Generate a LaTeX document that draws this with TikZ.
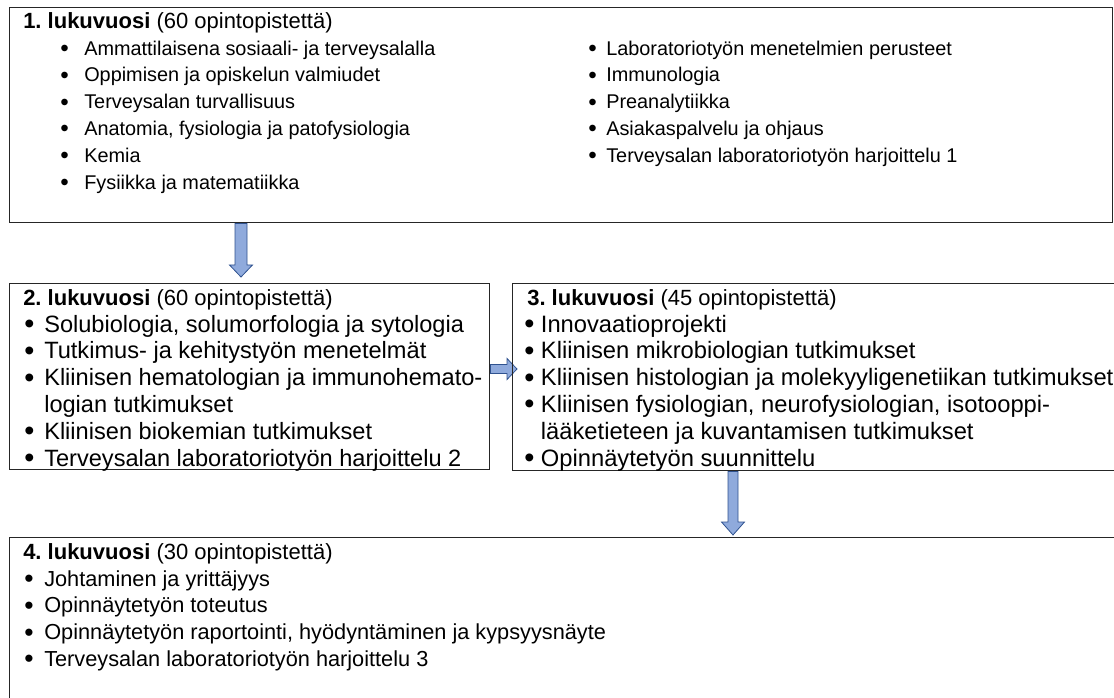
\documentclass[tikz,border=0pt]{standalone}
\usepackage{fontspec}
\usepackage{graphicx}
\setmainfont{Liberation Sans}
\frenchspacing
\usetikzlibrary{calc,backgrounds}

\definecolor{arrowfill}{RGB}{143,170,220}
\definecolor{arrowline}{RGB}{47,82,143}

\newcommand{\bul}[1][15pt]{\makebox[#1][l]{\raisebox{-1.1pt}{\scalebox{1.22}{•}}}}
\newcommand{\itemsize}[1]{\fontsize{#1}{20.1}\selectfont}
% block arrow downwards: start, tip, shaft half, head half, head length
\newcommand{\vblock}[5]{%
  \draw[bluearrow] let \p1=(#1), \p2=(#2) in
    (\x1-#3,\y1) -- (\x1-#3,\y2+#5) -- (\x1-#4,\y2+#5) -- (\x1,\y2)
    -- (\x1+#4,\y2+#5) -- (\x1+#3,\y2+#5) -- (\x1+#3,\y1) -- cycle;}
% block arrow to the right
\newcommand{\hblock}[5]{%
  \draw[bluearrow] let \p1=(#1), \p2=(#2) in
    (\x1,\y1-#3) -- (\x2-#5,\y1-#3) -- (\x2-#5,\y1-#4) -- (\x2,\y1)
    -- (\x2-#5,\y1+#4) -- (\x2-#5,\y1+#3) -- (\x1,\y1+#3) -- cycle;}

\begin{document}
\begin{tikzpicture}[x=0.75pt, y=-0.75pt,
    yearbox/.style={draw=black!85, line width=1.1pt, anchor=north west, inner sep=0},
    yeartext/.style={anchor=north west, inner sep=0, align=left,
      font=\itemsize{#1}},
    bluearrow/.style={fill=arrowfill, draw=arrowline, line width=0.6pt}]
    \useasboundingbox (0,0) rectangle (1114,698);
    \clip (0,0) rectangle (1114,698);

    %% boxes
    \node[yearbox, minimum width=827.25pt, minimum height=161.25pt] (y1) at (9,7) {};
    \node[yearbox, minimum width=360pt, minimum height=139.5pt] (y2) at (9,283) {};
    \node[yearbox, minimum width=465pt, minimum height=140.25pt] (y3) at (512,283) {};
    \node[yearbox, minimum width=843.75pt, minimum height=135pt] (y4) at (9,537) {};

    %% 1. lukuvuosi
    \node[yeartext=14.9] (t1) at (23,9.2) {\itemsize{16.5}\strut\textbf{1. lukuvuosi} (60 opintopistettä)\\
        \hspace*{27.75pt}\bul[18pt]Ammattilaisena sosiaali- ja terveysalalla\\
        \hspace*{27.75pt}\bul[18pt]Oppimisen ja opiskelun valmiudet\\
        \hspace*{27.75pt}\bul[18pt]Terveysalan turvallisuus\\
        \hspace*{27.75pt}\bul[18pt]Anatomia, fysiologia ja patofysiologia\\
        \hspace*{27.75pt}\bul[18pt]Kemia\\
        \hspace*{27.75pt}\bul[18pt]Fysiikka ja matematiikka};
    \node[yeartext=14.9] (t1b) at (588,36) {\strut\bul[13.5pt]Laboratoriotyön menetelmien perusteet\\
        \bul[13.5pt]Immunologia\\
        \bul[13.5pt]Preanalytiikka\\
        \bul[13.5pt]Asiakaspalvelu ja ohjaus\\
        \bul[13.5pt]Terveysalan laboratoriotyön harjoittelu 1};

    %% 2. lukuvuosi
    \node[yeartext=17.7] (t2) at (23,286.2) {\itemsize{16.5}\strut\textbf{2. lukuvuosi} (60 opintopistettä)\\
        \hspace*{0.75pt}\bul[15pt]Solubiologia, solumorfologia ja sytologia\\
        \hspace*{0.75pt}\bul[15pt]Tutkimus- ja kehitystyön menetelmät\\
        \hspace*{0.75pt}\bul[15pt]Kliinisen hematologian ja immunohemato-\\
        \hspace*{15.75pt}logian tutkimukset\\
        \hspace*{0.75pt}\bul[15pt]Kliinisen biokemian tutkimukset\\
        \hspace*{0.75pt}\bul[15pt]Terveysalan laboratoriotyön harjoittelu 2};

    %% 3. lukuvuosi
    \node[yeartext=17.8] (t3) at (527,286.2) {\itemsize{16.5}\strut\textbf{3. lukuvuosi} (45 opintopistettä)\\
        \hspace*{-2.25pt}\bul[12.5pt]Innovaatioprojekti\\
        \hspace*{-2.25pt}\bul[12.5pt]Kliinisen mikrobiologian tutkimukset\\
        \hspace*{-2.25pt}\bul[12.5pt]Kliinisen histologian ja molekyyligenetiikan tutkimukset\\
        \hspace*{-2.25pt}\bul[12.5pt]Kliinisen fysiologian, neurofysiologian, isotooppi-\\
        \hspace*{10.25pt}lääketieteen ja kuvantamisen tutkimukset\\
        \hspace*{-2.25pt}\bul[12.5pt]Opinnäytetyön suunnittelu};

    %% 4. lukuvuosi
    \node[yeartext=16.3] (t4) at (23,540.2) {\itemsize{16.5}\strut\textbf{4. lukuvuosi} (30 opintopistettä)\\
        \hspace*{0.75pt}\bul Johtaminen ja yrittäjyys\\
        \hspace*{0.75pt}\bul Opinnäytetyön toteutus\\
        \hspace*{0.75pt}\bul Opinnäytetyön raportointi, hyödyntäminen ja kypsyysnäyte\\
        \hspace*{0.75pt}\bul Terveysalan laboratoriotyön harjoittelu 3};

    %% arrows
    \coordinate (a1) at (241,0);
    \coordinate (a2) at (0,369);
    \coordinate (a3) at (733,0);
    \begin{scope}[on background layer]
        \vblock{y1.south -| a1}{$(y2.north -| a1)+(0,-6)$}{4.5pt}{8.6pt}{9pt}
        \hblock{y2.east |- a2}{$(y3.west |- a2)+(5,0)$}{3.4pt}{7.9pt}{7.5pt}
        \vblock{y3.south -| a3}{$(y4.north -| a3)+(0,-2)$}{3.75pt}{8.6pt}{9.75pt}
    \end{scope}

\end{tikzpicture}
\end{document}
